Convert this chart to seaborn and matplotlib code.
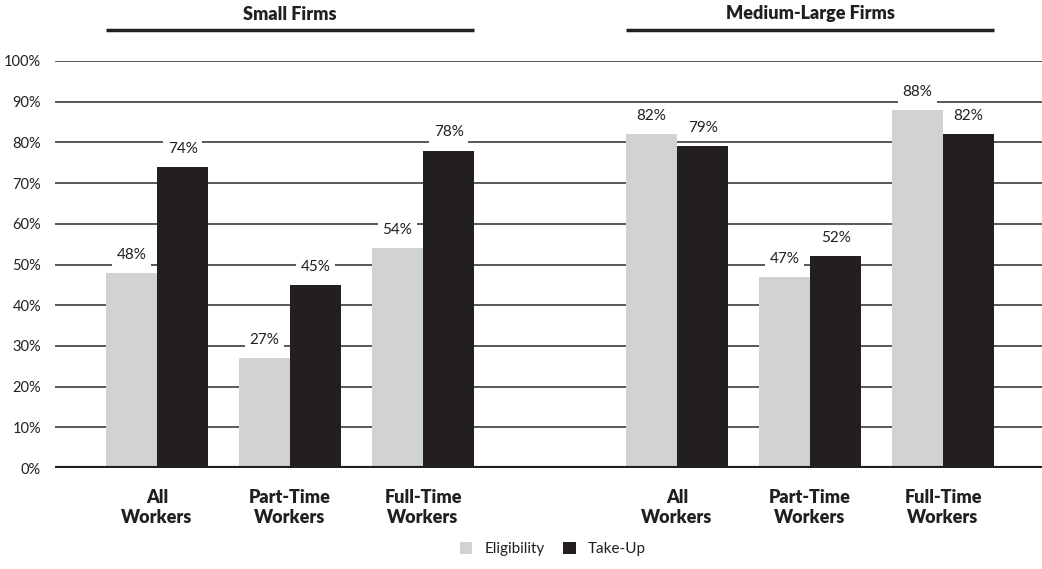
import matplotlib
matplotlib.use("Agg")
import matplotlib.pyplot as plt
import pandas as pd
import seaborn as sns
from matplotlib.transforms import blended_transform_factory

# Survey data: retirement plan eligibility and take-up by firm size
firm_groups = ["Small Firms", "Medium-Large Firms"]
worker_types = ["All\nWorkers", "Part-Time\nWorkers", "Full-Time\nWorkers"]
series_names = ["Eligibility", "Take-Up"]
small_eligibility = [48, 27, 54]
small_takeup = [74, 45, 78]
medium_eligibility = [82, 47, 88]
medium_takeup = [79, 52, 82]
y_ticks = [0, 10, 20, 30, 40, 50, 60, 70, 80, 90, 100]

GRAY = "#d1d2d4"
BLACK = "#231f20"
GRID = "#4a4b4d"
GROUP_OFFSET = 3.91   # distance between the first bars of the two groups
BAR_SPAN = 0.77       # total width of a pair of bars

values = {
    ("Small Firms", "Eligibility"): small_eligibility,
    ("Small Firms", "Take-Up"): small_takeup,
    ("Medium-Large Firms", "Eligibility"): medium_eligibility,
    ("Medium-Large Firms", "Take-Up"): medium_takeup,
}

rows = []
for g, group in enumerate(firm_groups):
    for i, worker in enumerate(worker_types):
        for s in series_names:
            rows.append({"pos": g * GROUP_OFFSET + i, "group": group,
                         "worker": worker, "series": s,
                         "value": values[(group, s)][i]})
df = pd.DataFrame(rows)

sns.set_theme(style="white")
plt.rcParams["font.family"] = ["Lato", "DejaVu Sans"]

fig = plt.figure(figsize=(10.42, 5.69), dpi=100)
ax = fig.add_axes([55 / 1042, 101 / 569, 987 / 1042, 407 / 569])

sns.barplot(data=df, x="pos", y="value", hue="series", hue_order=series_names,
            palette=[GRAY, BLACK], native_scale=True, width=BAR_SPAN,
            saturation=1, linewidth=0, errorbar=None, ax=ax, zorder=2)

ax.set_ylim(0, 100)
ax.set_xlim(-0.767, 6.654)

# horizontal gridlines behind the bars, heavy baseline on top
for t in y_ticks[1:]:
    ax.axhline(t, color=GRID, lw=1.3, zorder=1)
ax.axhline(0, color=BLACK, lw=3, zorder=4)

for c in ax.containers:
    ax.bar_label(c, fmt="{:.0f}%", padding=8, fontsize=11, color=BLACK,
                 bbox=dict(facecolor="white", edgecolor="none", pad=3.5),
                 zorder=3)

ax.set_yticks(y_ticks)
ax.set_yticklabels([f"{t}%" for t in y_ticks], fontsize=10.5, color=BLACK)
positions = sorted(df["pos"].unique())
ax.set_xticks(positions)
ax.set_xticklabels(worker_types * 2, fontsize=13, fontweight="heavy",
                   color=BLACK, linespacing=1.2)
ax.tick_params(axis="y", length=0, pad=10)
ax.tick_params(axis="x", length=0, pad=15)
ax.set_xlabel("")
ax.set_ylabel("")
for sp in ax.spines.values():
    sp.set_visible(False)

# group headers with rules over each set of bars
trans = blended_transform_factory(ax.transData, fig.transFigure)
half = BAR_SPAN / 2
for g, group in enumerate(firm_groups):
    x0 = g * GROUP_OFFSET - half
    x1 = g * GROUP_OFFSET + 2 + half
    ax.plot([x0, x1], [1 - 30 / 569] * 2, transform=trans, color=BLACK,
            lw=2.5, clip_on=False, solid_capstyle="butt")
    ax.text((x0 + x1) / 2, 1 - 14 / 569, group, transform=trans,
            ha="center", va="center", fontsize=13, fontweight="heavy",
            color=BLACK)

handles, labels = ax.get_legend_handles_labels()
ax.get_legend().remove()
fig.legend(handles, labels, loc="center", ncol=2, frameon=False,
           bbox_to_anchor=(553 / 1042, 20 / 569), fontsize=11,
           handlelength=0.8, handleheight=0.8, columnspacing=1.2,
           handletextpad=0.8, labelcolor=BLACK)

fig.savefig("out.png", dpi=100)
